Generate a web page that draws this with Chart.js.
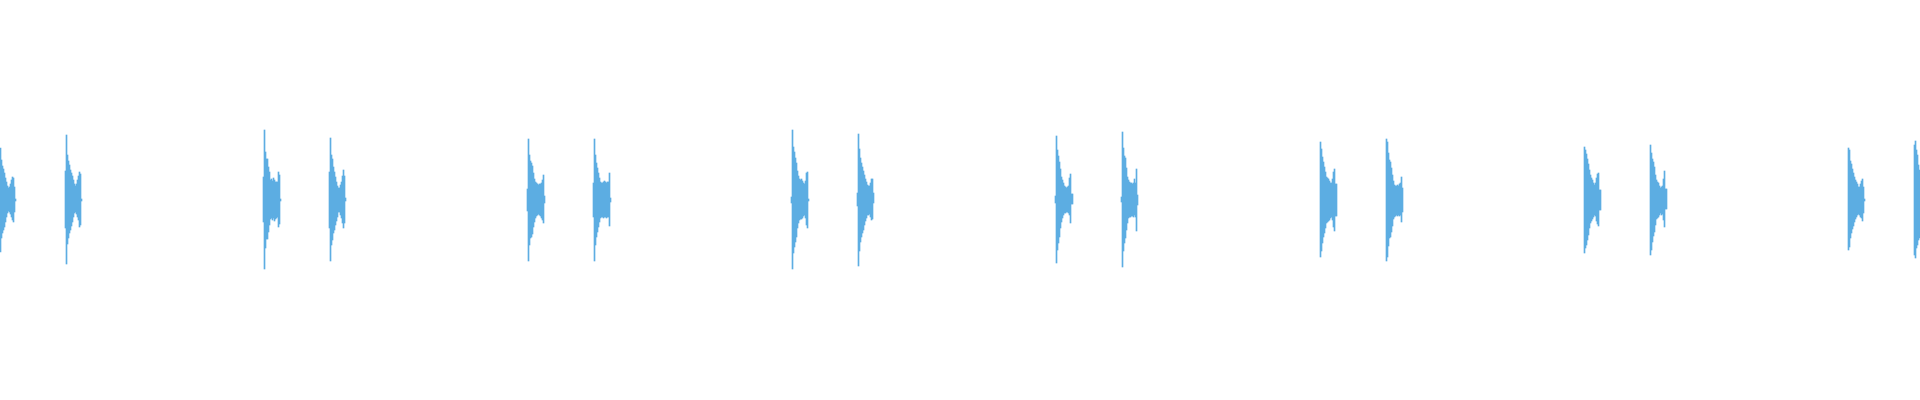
<!DOCTYPE html>
<html>
<head>
<meta charset="utf-8">
<title>Waveform</title>
<script src="https://cdn.jsdelivr.net/npm/chart.js@4/dist/chart.umd.min.js"></script>
<style>
    html, body { margin: 0; padding: 0; background: #ffffff; }
    #wrap { width: 1920px; height: 400px; }
</style>
</head>
<body>
<div id="wrap"><canvas id="wave" width="1920" height="400"></canvas></div>
<script>
// waveform overview: one bar per display column, amplitude in % of full scale

const columnCount = 1920;

// column where each hit starts
const onsets = [0, 65, 263, 329, 527, 593, 791, 857, 1055, 1121, 1320, 1386, 1584, 1650, 1848, 1914];

// positive peak per column, for each hit
const burstPeak = [
    [26, 20, 17, 15.5, 13.5, 11, 9, 7, 6, 6.5, 8, 10, 11.5, 11, 6.5, 0.5],
    [14.5, 32.5, 22.5, 19.5, 17.5, 15, 13.5, 12, 10, 8, 7, 8, 10, 12, 14, 13, 0.5],
    [11.5, 35, 24, 20.5, 20.5, 16.5, 14, 10, 10.5, 9.5, 11, 10, 9, 9, 9, 14, 12.5, 0.5],
    [14, 31, 22.5, 20.5, 16.5, 14, 11.5, 9, 7, 6, 6, 7.5, 9, 12, 15, 12, 1],
    [5.5, 30.5, 22.5, 19.5, 18.5, 17, 13.5, 10.5, 9, 8.5, 8, 7.5, 8, 8, 8.5, 10, 12.5, 2],
    [8.5, 30.5, 22.5, 18.5, 16, 13.5, 11, 9, 8.5, 8.5, 9, 9.5, 9, 8.5, 9, 9, 13.5, 1],
    [1.5, 35, 26.5, 24, 21, 18.5, 14.5, 12, 10.5, 10, 10.5, 9.5, 8.5, 8, 9.5, 13.5, 14, 0.5],
    [3.5, 33, 25.5, 21, 18.5, 16.5, 14.5, 12.5, 10.5, 9, 7.5, 7, 7, 8.5, 10.5, 10.5, 3.5],
    [2, 32, 25, 22, 19, 15.5, 11.5, 10, 8.5, 7, 6.5, 6, 6.5, 7, 11, 13, 3, 3],
    [1.5, 34, 26, 22, 21, 16, 11.5, 10, 9, 8.5, 8.5, 8, 8.5, 10.5, 8.5, 15.5, 2.5],
    [29, 25.5, 21.5, 19, 16.5, 14, 11.5, 11, 10.5, 9.5, 8.5, 8.5, 10.5, 14, 15.5, 8, 8],
    [30.5, 29, 23.5, 20, 19, 16, 12.5, 9.5, 7.5, 7, 7, 7.5, 7, 8, 8.5, 11.5, 6],
    [26.5, 25, 23, 20.5, 18, 15, 12.5, 11, 10, 8.5, 7.5, 8.5, 11, 13, 13.5, 5, 5],
    [27.5, 23.5, 20.5, 19, 16.5, 12.5, 10, 9, 8.5, 7, 6, 6.5, 7, 10.5, 14.5, 5.5, 5.5],
    [26, 25, 19.5, 18, 15.5, 13.5, 11.5, 10, 9, 8, 6.5, 6.5, 8, 9.5, 10.5, 6.5, 0.5],
    [27.5, 29.5, 25, 22.5, 17.5, 15]
];

// negative peak (depth below zero) per column, for each hit
const burstTrough = [
    [26, 19, 16.5, 15, 13.5, 11, 8.5, 6.5, 5.5, 6, 7, 8.5, 10, 11, 6, 0.5],
    [14, 32, 22, 19, 16.5, 15, 13, 11, 8.5, 6.5, 6, 7, 8.5, 10, 13.5, 12.5, 0.5],
    [11, 34.5, 24, 19.5, 19.5, 16, 12.5, 9.5, 9, 10, 9, 10.5, 9.5, 9, 8.5, 13.5, 12, 0.5],
    [14, 30.5, 22.5, 20, 16.5, 15, 12.5, 10.5, 8.5, 6, 6, 7.5, 9, 11.5, 14, 11.5, 0.5],
    [5.5, 30.5, 22.5, 19, 18.5, 17, 13.5, 11, 9, 8, 7.5, 7, 7.5, 8, 9, 10, 11.5, 1.5],
    [8.5, 30.5, 22.5, 18.5, 16, 13.5, 11, 9, 8.5, 8.5, 9, 8.5, 8.5, 9, 8.5, 8.5, 13, 1],
    [1.5, 34.5, 26.5, 23.5, 21, 18.5, 14, 11.5, 10, 9.5, 9.5, 9, 8, 7.5, 9, 12.5, 14, 0.5],
    [3, 33, 25.5, 21, 18.5, 16.5, 15, 12.5, 10.5, 9, 7.5, 7.5, 7, 8.5, 10, 9.5, 1.5],
    [1.5, 31.5, 25, 21.5, 18.5, 14, 11, 9, 7.5, 6.5, 6.5, 6, 6, 6.5, 7.5, 11.5, 2, 2],
    [1, 33.5, 25.5, 21.5, 19, 15, 11.5, 9, 8.5, 8.5, 8, 8, 8.5, 7.5, 8.5, 15.5, 2.5],
    [28.5, 25.5, 21.5, 18.5, 16.5, 14, 11.5, 11, 10.5, 10, 9, 8.5, 10, 13.5, 15.5, 8, 8],
    [30.5, 28.5, 23, 19, 18.5, 16, 13, 9.5, 8.5, 8, 7.5, 8, 7.5, 8, 7.5, 11, 6],
    [26.5, 24, 22.5, 20, 17.5, 14, 11.5, 10.5, 9.5, 8.5, 7.5, 8, 10.5, 12, 13, 5, 5],
    [27.5, 25, 21, 18, 16, 12.5, 9.5, 9, 8.5, 7.5, 6.5, 7.5, 7, 10, 13.5, 4.5, 4.5],
    [25, 23.5, 19, 16.5, 14.5, 13, 11, 9.5, 8.5, 7.5, 7, 7.5, 8.5, 9, 10.5, 6.5, 0.5],
    [27.5, 29, 24, 22.5, 20, 19]
];

const waveColor = '#5dade2';

document.addEventListener('DOMContentLoaded', () => {
    const labels = Array.from({ length: columnCount }, (_, i) => i);
    const columns = new Array(columnCount).fill(null);

    onsets.forEach((start, b) => {
        burstPeak[b].forEach((hi, j) => {
            const col = start + j;
            if (col >= columnCount) return;
            columns[col] = [-burstTrough[b][j], hi];
        });
    });

    new Chart(document.getElementById('wave'), {
        type: 'bar',
        data: {
            labels: labels,
            datasets: [{
                data: columns,
                backgroundColor: waveColor,
                borderWidth: 0,
                barPercentage: 1,
                categoryPercentage: 1
            }]
        },
        options: {
            responsive: false,
            animation: false,
            layout: { padding: 0 },
            plugins: {
                legend: { display: false },
                tooltip: { enabled: false }
            },
            scales: {
                x: { display: false, offset: true },
                y: { display: false, min: -100, max: 100 }
            }
        }
    });
});
</script>
</body>
</html>
